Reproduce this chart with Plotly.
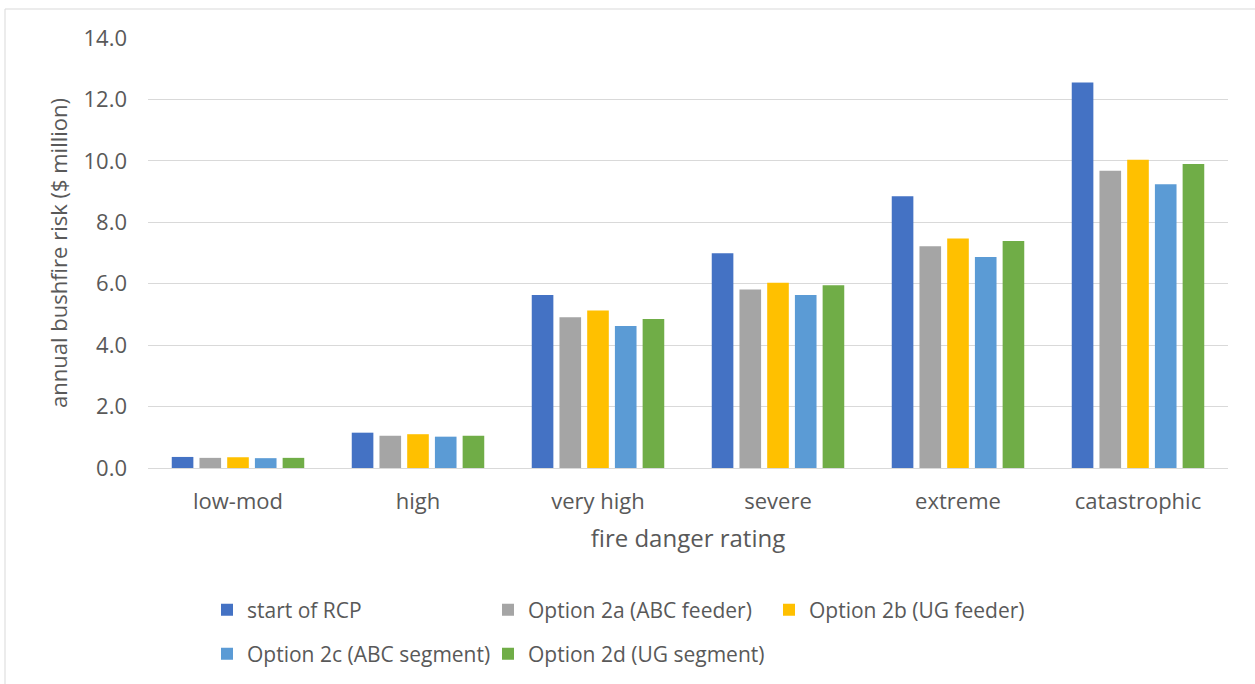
import plotly.graph_objects as go

categories = ["low-mod", "high", "very high", "severe", "extreme", "catastrophic"]
start_rcp = [0.36, 1.15, 5.63, 6.99, 8.85, 12.55]
opt_2a = [0.33, 1.05, 4.91, 5.81, 7.22, 9.68]
opt_2b = [0.35, 1.10, 5.13, 6.03, 7.47, 10.04]
opt_2c = [0.32, 1.02, 4.62, 5.63, 6.87, 9.24]
opt_2d = [0.33, 1.05, 4.85, 5.95, 7.39, 9.90]
y_ticks = [0, 2, 4, 6, 8, 10, 12, 14]

series = [
    ("start of RCP", start_rcp, "#4472C4", "legend"),
    ("Option 2a (ABC feeder)", opt_2a, "#A5A5A5", "legend"),
    ("Option 2b (UG feeder)", opt_2b, "#FFC000", "legend"),
    ("Option 2c (ABC segment)", opt_2c, "#5B9BD5", "legend2"),
    ("Option 2d (UG segment)", opt_2d, "#70AD47", "legend2"),
]

FONT = "Open Sans"
TXT = "#595959"

fig = go.Figure()
for name, vals, col, lg in series:
    fig.add_trace(go.Bar(
        x=categories, y=vals, name=name,
        marker=dict(color=col, line=dict(width=0)),
        legend=lg,
    ))

W, H = 1255, 684
L, R, T, B = 148, 27, 38, 216
pw, ph = W - L - R, H - T - B

def px_x(x):
    return (x - L) / pw

def px_y(y):
    return (H - B - y) / ph

legend_common = dict(
    orientation="h", xanchor="left", yanchor="middle",
    entrywidth=236, entrywidthmode="pixels",
    font=dict(family=FONT, size=21, color=TXT), bgcolor="rgba(0,0,0,0)",
    traceorder="normal",
)

fig.update_layout(
    width=W, height=H,
    margin=dict(l=L, r=R, t=T, b=B, autoexpand=False),
    paper_bgcolor="white", plot_bgcolor="white",
    font=dict(family=FONT, color=TXT, size=21),
    barmode="group", bargap=0.23, bargroupgap=0.22,
    showlegend=True,
    legend=dict(x=px_x(207), y=px_y(610), **legend_common),
    legend2=dict(x=px_x(207), y=px_y(654), **legend_common),
    xaxis=dict(
        showgrid=False, showline=True, linecolor="#D9D9D9", linewidth=1,
        ticks="", tickfont=dict(size=22, color=TXT), ticklabelstandoff=14,
        title=dict(text="fire danger rating", font=dict(size=24, color=TXT), standoff=15),
    ),
    yaxis=dict(
        range=[0, 14], tickvals=y_ticks, tickformat=".1f",
        showgrid=True, gridcolor="#D9D9D9", gridwidth=1,
        zeroline=False, showline=False, ticks="",
        ticklabelstandoff=20,
        tickfont=dict(size=22, color=TXT),
        title=dict(text="annual bushfire risk ($ million)", font=dict(size=22, color=TXT), standoff=9),
    ),
    shapes=[dict(
        type="rect", xref="paper", yref="paper",
        x0=px_x(5), x1=px_x(1262), y0=px_y(700), y1=px_y(9),
        line=dict(color="#D9D9D9", width=1), fillcolor="rgba(0,0,0,0)", layer="below",
    )],
)

fig.write_html("out.html")
